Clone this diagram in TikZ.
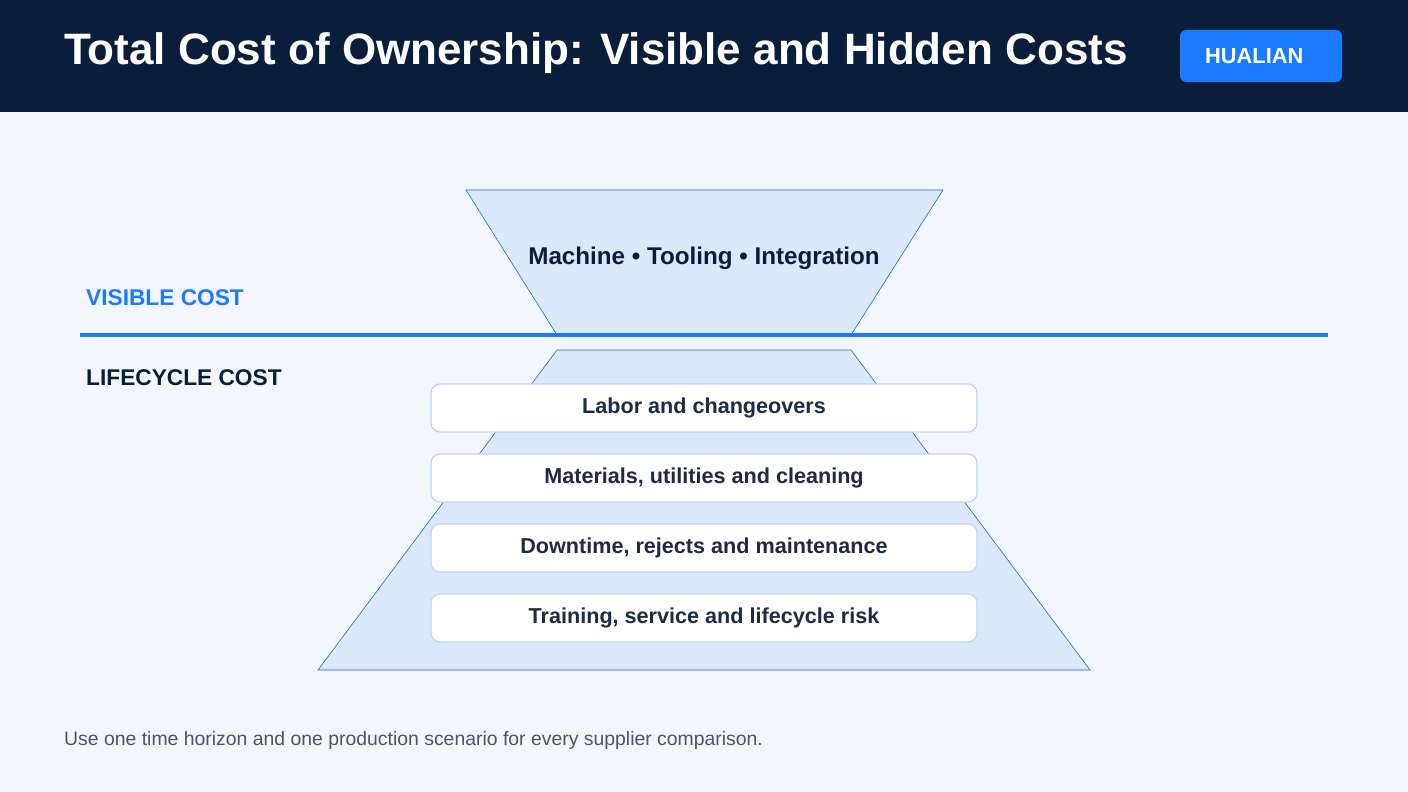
\documentclass[tikz,border=0pt]{standalone}
\usepackage{fontspec}
\setmainfont{Liberation Sans}
\definecolor{navy}{HTML}{0A1D3A}
\definecolor{bblue}{HTML}{1A7BFF}
\definecolor{bg}{HTML}{F3F7FD}
\definecolor{trap}{HTML}{DCE8FB}
\definecolor{boxb}{HTML}{BFD5F3}
\definecolor{boxt}{HTML}{1E2B45}
\definecolor{foot}{HTML}{4A5568}
\begin{document}
\begin{tikzpicture}[x=1pt,y=-1pt,
  trapz/.style={fill=trap,draw=bblue!85!black,line width=0.6pt},
  item/.style={fill=white,draw=boxb,line width=1.2pt,rounded corners=9pt,minimum width=546pt,minimum height=48pt,inner sep=0pt,font=\bfseries\fontsize{21.6}{25}\selectfont,text=boxt},
  lab/.style={anchor=west,inner sep=0pt,font=\bfseries\fontsize{22.7}{26}\selectfont}]
\useasboundingbox (0,0) rectangle (1408,792);
\fill[bg] (0,0) rectangle (1408,792);
\fill[navy] (0,0) rectangle (1408,112);
\node[anchor=west,inner sep=0pt,text=white,font=\bfseries\fontsize{44}{50}\selectfont] (title) at (64,53) {Total Cost of Ownership: Visible and Hidden Costs};
\node[fill=bblue,rounded corners=6pt,minimum width=162pt,minimum height=52pt,inner sep=0pt] (badge) at (1261,56) {};
\node[anchor=west,inner sep=0pt,text=white,font=\bfseries\fontsize{21.8}{25}\selectfont] (badget) at (1205,56) {HUALIAN};
\draw[trapz] (466,190) -- (943,190) -- (851,335) -- (557,335) -- cycle;
\node[inner sep=0pt,text=navy,font=\bfseries\fontsize{24.2}{28}\selectfont] (top) at (704,258) {Machine • Tooling • Integration};
\draw[trapz] (557,350) -- (851,350) -- (1090,670) -- (318,670) -- cycle;
\draw[bblue,line width=4pt] (80,335) -- (1328,335);
\node[lab,text=bblue] (vis) at (86,298) {VISIBLE COST};
\node[lab,text=navy] (life) at (86,378) {LIFECYCLE COST};
\node[item] (b1) at (704,408) {Labor and changeovers};
\node[item] (b2) at (704,478) {Materials, utilities and cleaning};
\node[item] (b3) at (704,548) {Downtime, rejects and maintenance};
\node[item] (b4) at (704,618) {Training, service and lifecycle risk};
\node[anchor=west,inner sep=0pt,text=foot,font=\fontsize{19.4}{23}\selectfont] (ft) at (64,740) {Use one time horizon and one production scenario for every supplier comparison.};
\end{tikzpicture}
\end{document}
